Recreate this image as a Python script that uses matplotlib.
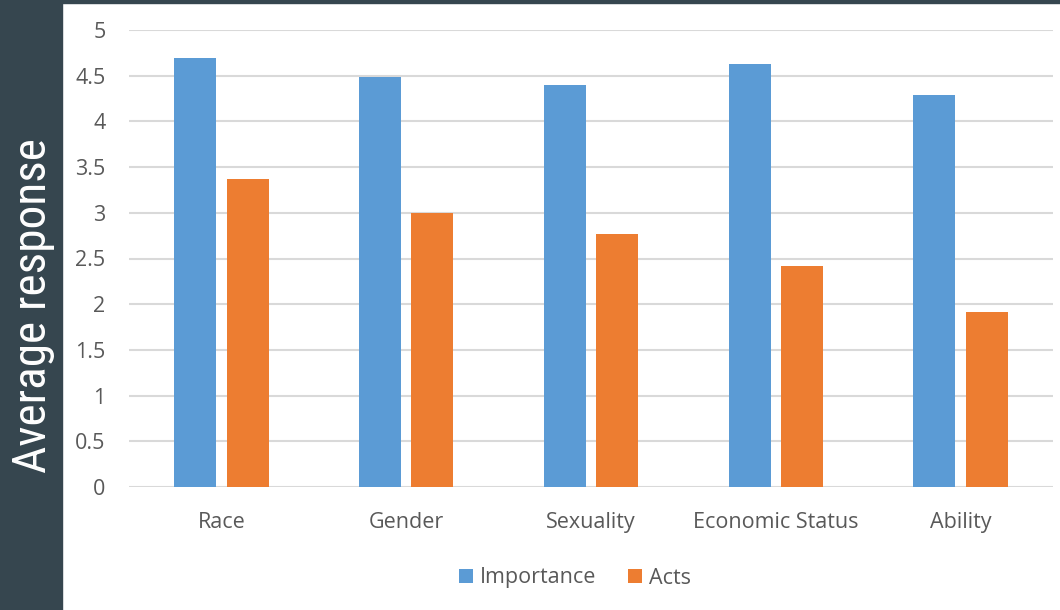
import numpy as np
import matplotlib.pyplot as plt
from matplotlib.patches import Rectangle

categories = ["Race", "Gender", "Sexuality", "Economic Status", "Ability"]
importance = [4.69, 4.49, 4.40, 4.63, 4.29]
acts = [3.37, 3.00, 2.77, 2.42, 1.91]
yticks = [0, 0.5, 1, 1.5, 2, 2.5, 3, 3.5, 4, 4.5, 5]

plt.rcParams['font.family'] = ['Open Sans', 'DejaVu Sans']
blue = '#5b9bd5'
orange = '#ed7d31'
slate = '#36464f'
txt = '#595959'

fig = plt.figure(figsize=(10.6, 6.1), dpi=100)
fig.patches.append(Rectangle((0, 0), 62/1060, 1, transform=fig.transFigure, color=slate, zorder=0))
fig.patches.append(Rectangle((0, 1 - 3/610), 1, 3/610, transform=fig.transFigure, color=slate, zorder=0))

ax = fig.add_axes([129/1060, 1 - 487/610, 924/1060, 457/610])
x = np.arange(len(categories))
w = 0.227
off = 0.142
ax.bar(x - off, importance, w, color=blue, label='Importance', zorder=3)
ax.bar(x + off, acts, w, color=orange, label='Acts', zorder=3)

ax.set_xlim(-0.5, len(categories) - 0.5)
ax.set_ylim(0, 5)
ax.set_yticks(yticks)
ax.set_yticklabels([f"{t:g}" for t in yticks])
ax.set_xticks(x)
ax.set_xticklabels(categories)
ax.grid(axis='y', color='#d9d9d9', linewidth=1.5, zorder=0)
for s in ax.spines.values():
    s.set_visible(False)
ax.tick_params(length=0, labelsize=15.5, colors=txt)
ax.tick_params(axis='y', pad=17)
ax.tick_params(axis='x', pad=18)

fig.text(33/1060, 1 - 306/610, "Average response", rotation=90, color='white',
         fontsize=34, ha='center', va='center', fontstretch='condensed',
         family=['Roboto Condensed', 'DejaVu Sans'])

fig.legend(loc='center', bbox_to_anchor=(575/1060, 1 - 578/610), ncol=2, frameon=False,
           fontsize=15.5, labelcolor=txt, handlelength=0.65, handleheight=0.65,
           handletextpad=0.3, columnspacing=1.5)

fig.savefig('out.png', dpi=100)
